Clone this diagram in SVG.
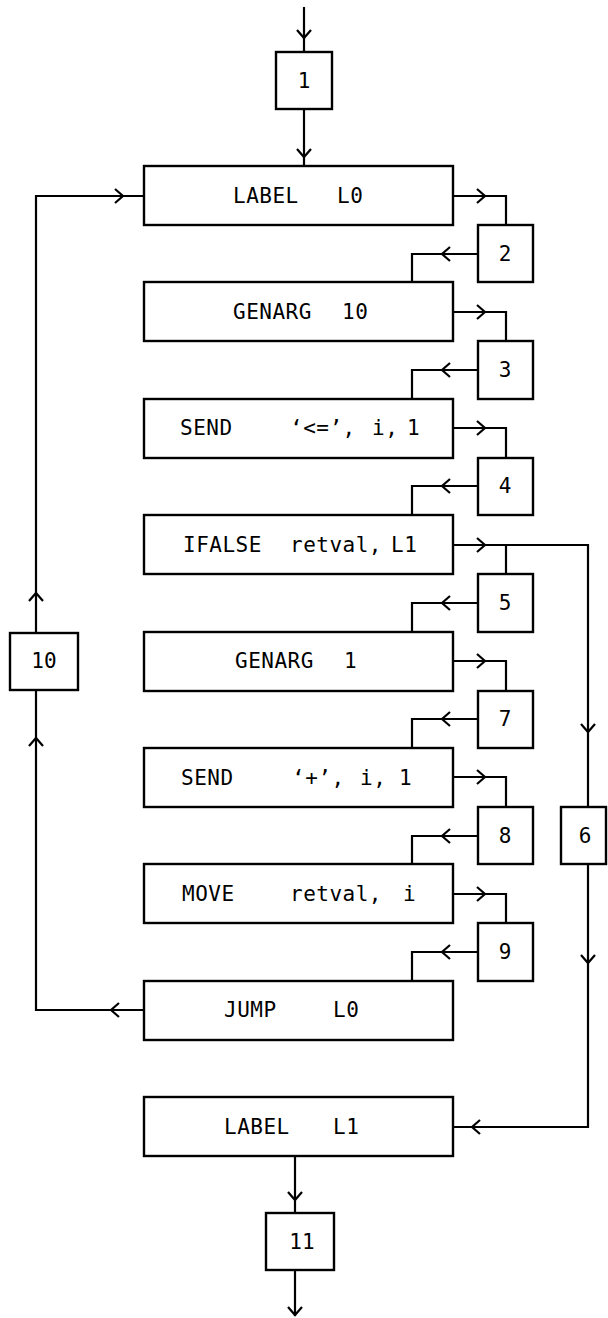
<svg xmlns="http://www.w3.org/2000/svg" xmlns:xlink="http://www.w3.org/1999/xlink" width="608" height="1318" viewBox="0 0 608 1318">
<style>
.box{fill:#fff;stroke:#000;stroke-width:2.4}
.ln{fill:none;stroke:#000;stroke-width:2.2}
.ah{fill:none;stroke:#000;stroke-width:2.2;stroke-linejoin:miter}
.t{font-family:"DejaVu Sans Mono","Liberation Mono",monospace;font-size:21px;letter-spacing:0.5px;fill:#000}
.n{font-family:"DejaVu Sans Mono","Liberation Mono",monospace;font-size:21px;fill:#000;text-anchor:middle}
</style>
<defs>
<path id="ah" d="M-8,-7 L0,0 L-8,7" class="ah"/>
</defs>
<rect width="608" height="1318" fill="#fff"/>
<g id="connectors">
<path class="ln" d="M304,7 V52"/>
<path class="ln" d="M304,109 V166"/>
<path class="ln" d="M453,196 H506 V225"/>
<path class="ln" d="M478,254 H412 V282"/>
<path class="ln" d="M453,312 H506 V341"/>
<path class="ln" d="M478,370 H412 V399"/>
<path class="ln" d="M453,428 H506 V458"/>
<path class="ln" d="M478,486 H412 V515"/>
<path class="ln" d="M453,545 H588 V807"/>
<path class="ln" d="M506,545 V574"/>
<path class="ln" d="M478,603 H412 V632"/>
<path class="ln" d="M453,661 H506 V691"/>
<path class="ln" d="M478,719 H412 V748"/>
<path class="ln" d="M453,777 H506 V807"/>
<path class="ln" d="M478,836 H412 V864"/>
<path class="ln" d="M453,894 H506 V923"/>
<path class="ln" d="M478,952 H412 V981"/>
<path class="ln" d="M144,1010 H36 V690"/>
<path class="ln" d="M36,633 V196 H144"/>
<path class="ln" d="M588,864 V1127 H453"/>
<path class="ln" d="M295,1156 V1213"/>
<path class="ln" d="M295,1270 V1316"/>
<use xlink:href="#ah" transform="translate(304,38) rotate(90)"/>
<use xlink:href="#ah" transform="translate(304,157) rotate(90)"/>
<use xlink:href="#ah" transform="translate(123,196)"/>
<use xlink:href="#ah" transform="translate(485,196)"/>
<use xlink:href="#ah" transform="translate(485,312)"/>
<use xlink:href="#ah" transform="translate(485,428)"/>
<use xlink:href="#ah" transform="translate(485,545)"/>
<use xlink:href="#ah" transform="translate(485,661)"/>
<use xlink:href="#ah" transform="translate(485,777)"/>
<use xlink:href="#ah" transform="translate(485,894)"/>
<use xlink:href="#ah" transform="translate(442,254) rotate(180)"/>
<use xlink:href="#ah" transform="translate(442,370) rotate(180)"/>
<use xlink:href="#ah" transform="translate(442,486) rotate(180)"/>
<use xlink:href="#ah" transform="translate(442,603) rotate(180)"/>
<use xlink:href="#ah" transform="translate(442,719) rotate(180)"/>
<use xlink:href="#ah" transform="translate(442,836) rotate(180)"/>
<use xlink:href="#ah" transform="translate(442,952) rotate(180)"/>
<use xlink:href="#ah" transform="translate(588,732) rotate(90)"/>
<use xlink:href="#ah" transform="translate(588,963) rotate(90)"/>
<use xlink:href="#ah" transform="translate(472,1127) rotate(180)"/>
<use xlink:href="#ah" transform="translate(111,1010) rotate(180)"/>
<use xlink:href="#ah" transform="translate(36,738) rotate(-90)"/>
<use xlink:href="#ah" transform="translate(36,593) rotate(-90)"/>
<use xlink:href="#ah" transform="translate(295,1200) rotate(90)"/>
<use xlink:href="#ah" transform="translate(295,1315) rotate(90)"/>
</g>
<g id="n1"><rect class="box" x="276" y="52" width="56" height="57"/><text class="n" x="304" y="88">1</text></g>
<g id="i0"><rect class="box" x="144" y="166" width="309" height="59"/><text class="t" y="203"><tspan x="233">LABEL</tspan><tspan x="337">L0</tspan></text></g>
<g id="n2"><rect class="box" x="478" y="225" width="55" height="57"/><text class="n" x="505" y="261">2</text></g>
<g id="i1"><rect class="box" x="144" y="282" width="309" height="59"/><text class="t" y="319"><tspan x="233">GENARG</tspan><tspan x="342">10</tspan></text></g>
<g id="n3"><rect class="box" x="478" y="341" width="55" height="58"/><text class="n" x="505" y="377">3</text></g>
<g id="i2"><rect class="box" x="144" y="399" width="309" height="59"/><text class="t" y="435"><tspan x="180">SEND</tspan><tspan x="290">‘&lt;=’,</tspan><tspan x="372">i,</tspan><tspan x="407">1</tspan></text></g>
<g id="n4"><rect class="box" x="478" y="458" width="55" height="57"/><text class="n" x="505" y="493">4</text></g>
<g id="i3"><rect class="box" x="144" y="515" width="309" height="59"/><text class="t" y="552"><tspan x="183">IFALSE</tspan><tspan x="290">retval,</tspan><tspan x="391">L1</tspan></text></g>
<g id="n5"><rect class="box" x="478" y="574" width="55" height="58"/><text class="n" x="505" y="610">5</text></g>
<g id="i4"><rect class="box" x="144" y="632" width="309" height="59"/><text class="t" y="668"><tspan x="235">GENARG</tspan><tspan x="344">1</tspan></text></g>
<g id="n7"><rect class="box" x="478" y="691" width="55" height="57"/><text class="n" x="505" y="726">7</text></g>
<g id="i5"><rect class="box" x="144" y="748" width="309" height="59"/><text class="t" y="785"><tspan x="181">SEND</tspan><tspan x="292">‘+’,</tspan><tspan x="360">i,</tspan><tspan x="399">1</tspan></text></g>
<g id="n8"><rect class="box" x="478" y="807" width="55" height="57"/><text class="n" x="505" y="843">8</text></g>
<g id="i6"><rect class="box" x="144" y="864" width="309" height="59"/><text class="t" y="901"><tspan x="182">MOVE</tspan><tspan x="290">retval,</tspan><tspan x="403">i</tspan></text></g>
<g id="n9"><rect class="box" x="478" y="923" width="55" height="58"/><text class="n" x="505" y="959">9</text></g>
<g id="i7"><rect class="box" x="144" y="981" width="309" height="59"/><text class="t" y="1017"><tspan x="224">JUMP</tspan><tspan x="333">L0</tspan></text></g>
<g id="n6"><rect class="box" x="561" y="807" width="45" height="57"/><text class="n" x="585" y="843">6</text></g>
<g id="n10"><rect class="box" x="10" y="633" width="68" height="57"/><text class="n" x="44" y="668">10</text></g>
<g id="i8"><rect class="box" x="144" y="1097" width="309" height="59"/><text class="t" y="1134"><tspan x="224">LABEL</tspan><tspan x="333">L1</tspan></text></g>
<g id="n11"><rect class="box" x="266" y="1213" width="68" height="57"/><text class="n" x="302" y="1249">11</text></g>
</svg>
